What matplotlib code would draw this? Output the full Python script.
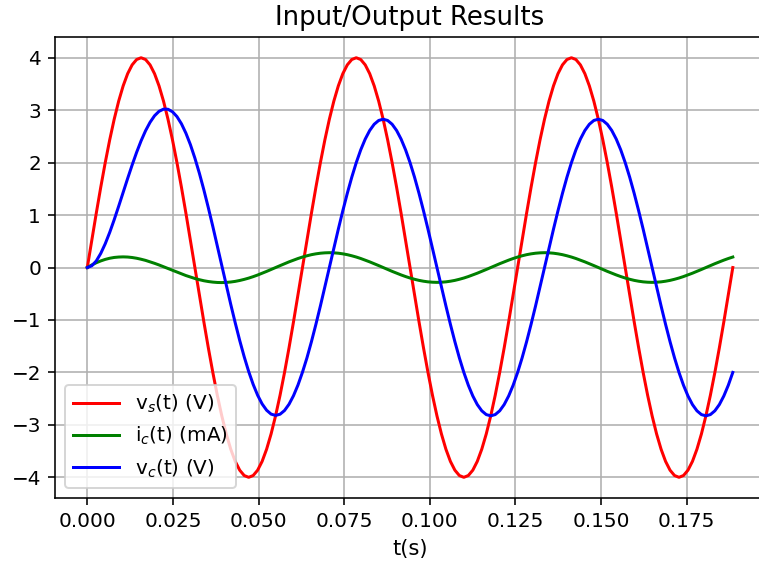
import numpy as np
import matplotlib
matplotlib.use('Agg')
import matplotlib.pyplot as plt

# sample times (s), one every 0.001309 s
t = np.arange(145) * 0.001309

# source voltage vs(t) in V
vs = [0, 0.522, 1.035, 1.531, 2, 2.435, 2.828, 3.173, 3.464, 3.696, 3.864, 3.966,
      4, 3.966, 3.864, 3.696, 3.464, 3.173, 2.828, 2.435, 2, 1.531, 1.035, 0.522,
      0, -0.522, -1.035, -1.531, -2, -2.435, -2.828, -3.173, -3.464, -3.696, -3.864, -3.966,
      -4, -3.966, -3.864, -3.696, -3.464, -3.173, -2.828, -2.435, -2, -1.531, -1.035, -0.522,
      0, 0.522, 1.035, 1.531, 2, 2.435, 2.828, 3.173, 3.464, 3.696, 3.864, 3.966,
      4, 3.966, 3.864, 3.696, 3.464, 3.173, 2.828, 2.435, 2, 1.531, 1.035, 0.522,
      0, -0.522, -1.035, -1.531, -2, -2.435, -2.828, -3.173, -3.464, -3.696, -3.864, -3.966,
      -4, -3.966, -3.864, -3.696, -3.464, -3.173, -2.828, -2.435, -2, -1.531, -1.035, -0.522,
      0, 0.522, 1.035, 1.531, 2, 2.435, 2.828, 3.173, 3.464, 3.696, 3.864, 3.966,
      4, 3.966, 3.864, 3.696, 3.464, 3.173, 2.828, 2.435, 2, 1.531, 1.035, 0.522,
      0, -0.522, -1.035, -1.531, -2, -2.435, -2.828, -3.173, -3.464, -3.696, -3.864, -3.966,
      -4, -3.966, -3.864, -3.696, -3.464, -3.173, -2.828, -2.435, -2, -1.531, -1.035, -0.522,
      0]

# capacitor current ic(t) in mA
ic = [0, 0.049, 0.091, 0.126, 0.155, 0.177, 0.192, 0.200, 0.203, 0.200, 0.191, 0.177,
      0.158, 0.136, 0.109, 0.080, 0.049, 0.015, -0.019, -0.054, -0.088, -0.121, -0.153, -0.182,
      -0.209, -0.232, -0.252, -0.267, -0.278, -0.285, -0.287, -0.284, -0.276, -0.264, -0.247, -0.226,
      -0.202, -0.174, -0.143, -0.109, -0.074, -0.038, -0.001, 0.036, 0.073, 0.108, 0.141, 0.172,
      0.2, 0.224, 0.245, 0.261, 0.273, 0.280, 0.283, 0.280, 0.273, 0.261, 0.245, 0.224,
      0.2, 0.172, 0.141, 0.108, 0.073, 0.037, 0, -0.037, -0.073, -0.108, -0.141, -0.172,
      -0.2, -0.224, -0.245, -0.261, -0.273, -0.280, -0.283, -0.280, -0.273, -0.261, -0.245, -0.224,
      -0.2, -0.172, -0.141, -0.108, -0.073, -0.037, 0, 0.037, 0.073, 0.108, 0.141, 0.172,
      0.2, 0.224, 0.245, 0.261, 0.273, 0.280, 0.283, 0.280, 0.273, 0.261, 0.245, 0.224,
      0.2, 0.172, 0.141, 0.108, 0.073, 0.037, 0, -0.037, -0.073, -0.108, -0.141, -0.172,
      -0.2, -0.224, -0.245, -0.261, -0.273, -0.280, -0.283, -0.280, -0.273, -0.261, -0.245, -0.224,
      -0.2, -0.172, -0.141, -0.108, -0.073, -0.037, 0, 0.037, 0.073, 0.108, 0.141, 0.172,
      0.2]

# capacitor voltage vc(t) in V
vc = [0, 0.033, 0.125, 0.269, 0.453, 0.670, 0.912, 1.169, 1.434, 1.698, 1.954, 2.196,
      2.416, 2.609, 2.769, 2.894, 2.978, 3.020, 3.018, 2.970, 2.878, 2.741, 2.561, 2.343,
      2.086, 1.798, 1.481, 1.140, 0.783, 0.414, 0.039, -0.334, -0.702, -1.055, -1.391, -1.701,
      -1.982, -2.228, -2.435, -2.601, -2.721, -2.795, -2.820, -2.797, -2.726, -2.607, -2.444, -2.240,
      -1.996, -1.722, -1.414, -1.082, -0.732, -0.369, 0, 0.369, 0.732, 1.082, 1.414, 1.722,
      2, 2.244, 2.449, 2.613, 2.732, 2.804, 2.828, 2.804, 2.732, 2.613, 2.449, 2.244,
      2, 1.722, 1.414, 1.082, 0.732, 0.369, 0, -0.369, -0.732, -1.082, -1.414, -1.722,
      -2, -2.244, -2.449, -2.613, -2.732, -2.804, -2.828, -2.804, -2.732, -2.613, -2.449, -2.244,
      -2, -1.722, -1.414, -1.082, -0.732, -0.369, 0, 0.369, 0.732, 1.082, 1.414, 1.722,
      2, 2.244, 2.449, 2.613, 2.732, 2.804, 2.828, 2.804, 2.732, 2.613, 2.449, 2.244,
      2, 1.722, 1.414, 1.082, 0.732, 0.369, 0, -0.369, -0.732, -1.082, -1.414, -1.722,
      -2, -2.244, -2.449, -2.613, -2.732, -2.804, -2.828, -2.804, -2.732, -2.613, -2.449, -2.244,
      -2]

fig = plt.figure(figsize=(759 / 144, 565 / 144), dpi=144)
ax = fig.add_axes([0.0725, 0.119, 1.008 - 0.0725, 0.934 - 0.119])

ax.plot(t, vs, 'r', label='v$_s$(t) (V)')
ax.plot(t, ic, 'g', label='i$_c$(t) (mA)')
ax.plot(t, vc, 'b', label='v$_c$(t) (V)')

ax.set_ylim(-4.39, 4.39)
ax.set_xticks([0, 0.025, 0.05, 0.075, 0.1, 0.125, 0.15, 0.175])
ax.grid(True)
ax.set_title('Input/Output Results', fontsize=13)
ax.set_xlabel('t(s)', fontsize=10.5)
ax.legend(loc='lower left', handlelength=2.3)

fig.savefig('out.png', dpi=144)
